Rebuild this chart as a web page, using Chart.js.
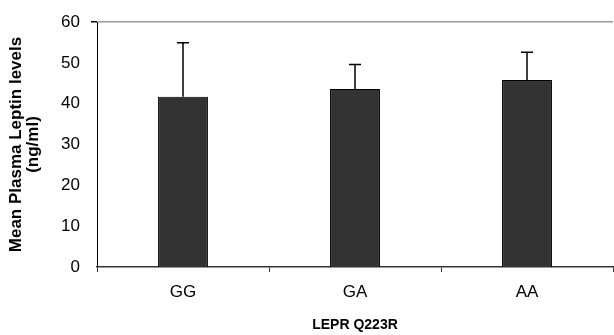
<!DOCTYPE html>
<html lang="en">
<head>
    <meta charset="UTF-8">
    <title>LEPR Q223R plasma leptin</title>
    <script src="https://cdn.jsdelivr.net/npm/chart.js"></script>
    <style>
        body {
            margin: 0;
            padding: 0;
            background: #fff;
        }
    </style>
</head>
<body>
    <canvas id="leptinChart" width="614" height="335"></canvas>

    <script>
        // Genotype groups and values
        const genotypes = ['GG', 'GA', 'AA'];
        const meanLeptin = [41.7, 43.6, 45.8];
        const sdLeptin = [13.2, 6.0, 6.8];   // upper error bar only
        const yTicks = [0, 10, 20, 30, 40, 50, 60];

        const fontFamily = '"Liberation Sans", Arial, sans-serif';

        // Draws the upper error whiskers using the chart's own scales
        const errorBars = {
            id: 'errorBars',
            afterDatasetsDraw(chart) {
                const ctx = chart.ctx;
                const yScale = chart.scales.y;
                const meta = chart.getDatasetMeta(0);
                ctx.save();
                ctx.strokeStyle = '#000';
                ctx.lineWidth = 1.5;
                meta.data.forEach((bar, i) => {
                    const yTop = yScale.getPixelForValue(meanLeptin[i] + sdLeptin[i]);
                    const yBase = yScale.getPixelForValue(meanLeptin[i]);
                    ctx.beginPath();
                    ctx.moveTo(bar.x, yBase);
                    ctx.lineTo(bar.x, yTop);
                    ctx.moveTo(bar.x - 6, yTop);
                    ctx.lineTo(bar.x + 6, yTop);
                    ctx.stroke();
                });
                ctx.restore();
            }
        };

        Chart.defaults.color = '#000';
        Chart.defaults.font.family = fontFamily;

        const ctx = document.getElementById('leptinChart').getContext('2d');
        new Chart(ctx, {
            type: 'bar',
            data: {
                labels: genotypes,
                datasets: [{
                    data: meanLeptin,
                    backgroundColor: '#333333',
                    borderColor: '#000',
                    borderWidth: 1,
                    categoryPercentage: 1,
                    barPercentage: 0.29
                }]
            },
            options: {
                responsive: false,
                animation: false,
                layout: {
                    padding: { top: 22, right: 1, bottom: 0, left: 0 }
                },
                plugins: {
                    legend: { display: false },
                    tooltip: { enabled: false }
                },
                scales: {
                    x: {
                        afterFit: (scale) => { scale.height = 68; },
                        grid: {
                            offset: true,
                            drawOnChartArea: false,
                            tickLength: 5,
                            tickColor: '#333'
                        },
                        border: { color: '#333', width: 1.5 },
                        ticks: {
                            padding: 10,
                            font: { size: 17 }
                        },
                        title: {
                            display: true,
                            text: 'LEPR Q223R',
                            padding: { top: 0, bottom: 1 },
                            font: { size: 14, weight: 'bold' }
                        }
                    },
                    y: {
                        min: 0,
                        max: 60,
                        afterFit: (scale) => { scale.width = 97; },
                        afterBuildTicks: (scale) => {
                            scale.ticks = yTicks.map(v => ({ value: v }));
                        },
                        grid: {
                            color: (c) => c.tick && c.tick.value === 60 ? '#999999' : 'rgba(0,0,0,0)',
                            lineWidth: (c) => c.tick && c.tick.value === 60 ? 1.5 : 0,
                            tickColor: '#000',
                            tickLength: 6
                        },
                        border: { color: '#000', width: 1 },
                        ticks: {
                            padding: 11,
                            font: { size: 17 }
                        },
                        title: {
                            display: true,
                            text: ['Mean Plasma Leptin levels', '(ng/ml)'],
                            padding: { top: 7, bottom: 0 },
                            font: { size: 17, weight: 'bold', lineHeight: 1.05 }
                        }
                    }
                }
            },
            plugins: [errorBars]
        });
    </script>
</body>
</html>
